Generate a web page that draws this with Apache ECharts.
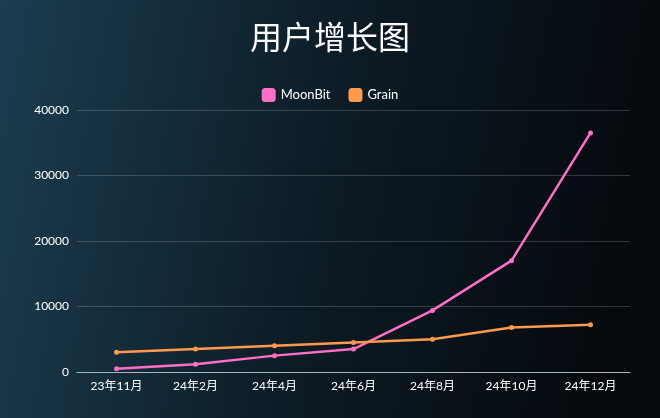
<!DOCTYPE html>
<html>
<head>
<meta charset="utf-8">
<script src="https://cdn.jsdelivr.net/npm/echarts@6/dist/echarts.min.js"></script>
<style>html,body{margin:0;padding:0;}#chart{width:660px;height:418px;}</style>
</head>
<body>
<div id="chart"></div>
<script>
var months = ['23年11月', '24年2月', '24年4月', '24年6月', '24年8月', '24年10月', '24年12月'];
var moonbitUsers = [500, 1200, 2500, 3500, 9400, 17000, 36500];
var grainUsers = [3000, 3500, 4000, 4500, 5000, 6800, 7200];

var chart = echarts.init(document.getElementById('chart'));
var fontFamily = 'Lato, "Noto Sans CJK SC", sans-serif';
chart.setOption({
	backgroundColor: new echarts.graphic.LinearGradient(0, 0, 1, 0.3, [
		{offset: 0, color: '#1b3d50'},
		{offset: 0.55, color: '#0c1a24'},
		{offset: 1, color: '#05090d'}
	]),
	textStyle: {fontFamily: fontFamily},
	title: {
		text: '用户增长图', left: 'center', top: 16,
		textStyle: {color: '#fff', fontSize: 32, fontWeight: 'normal', fontFamily: '"Noto Sans CJK SC", sans-serif'}
	},
	legend: {
		top: 83, left: 'center', itemWidth: 14, itemHeight: 14, itemGap: 18,
		textStyle: {color: '#fff', fontSize: 13, fontFamily: fontFamily},
		data: [{name: 'MoonBit', icon: 'roundRect'}, {name: 'Grain', icon: 'roundRect'}]
	},
	grid: {left: 77, right: 30, top: 110, bottom: 46},
	xAxis: {
		type: 'category', data: months,
		axisLine: {lineStyle: {color: '#aab4bb'}},
		axisTick: {show: false},
		axisLabel: {color: '#fff', fontSize: 12, margin: 8, fontFamily: fontFamily}
	},
	yAxis: {
		type: 'value', min: 0, max: 40000, interval: 10000,
		axisLabel: {color: '#fff', fontSize: 12, fontFamily: fontFamily, formatter: function (v) { return String(v); }},
		splitLine: {lineStyle: {color: 'rgba(255,255,255,0.18)'}}
	},
	series: [
		{name: 'MoonBit', type: 'line', data: moonbitUsers, color: '#ff6ec7',
			symbol: 'circle', symbolSize: 5, lineStyle: {width: 2.5}},
		{name: 'Grain', type: 'line', data: grainUsers, color: '#ff9a4d',
			symbol: 'circle', symbolSize: 5, lineStyle: {width: 2.5}}
	]
});
</script>
</body>
</html>
